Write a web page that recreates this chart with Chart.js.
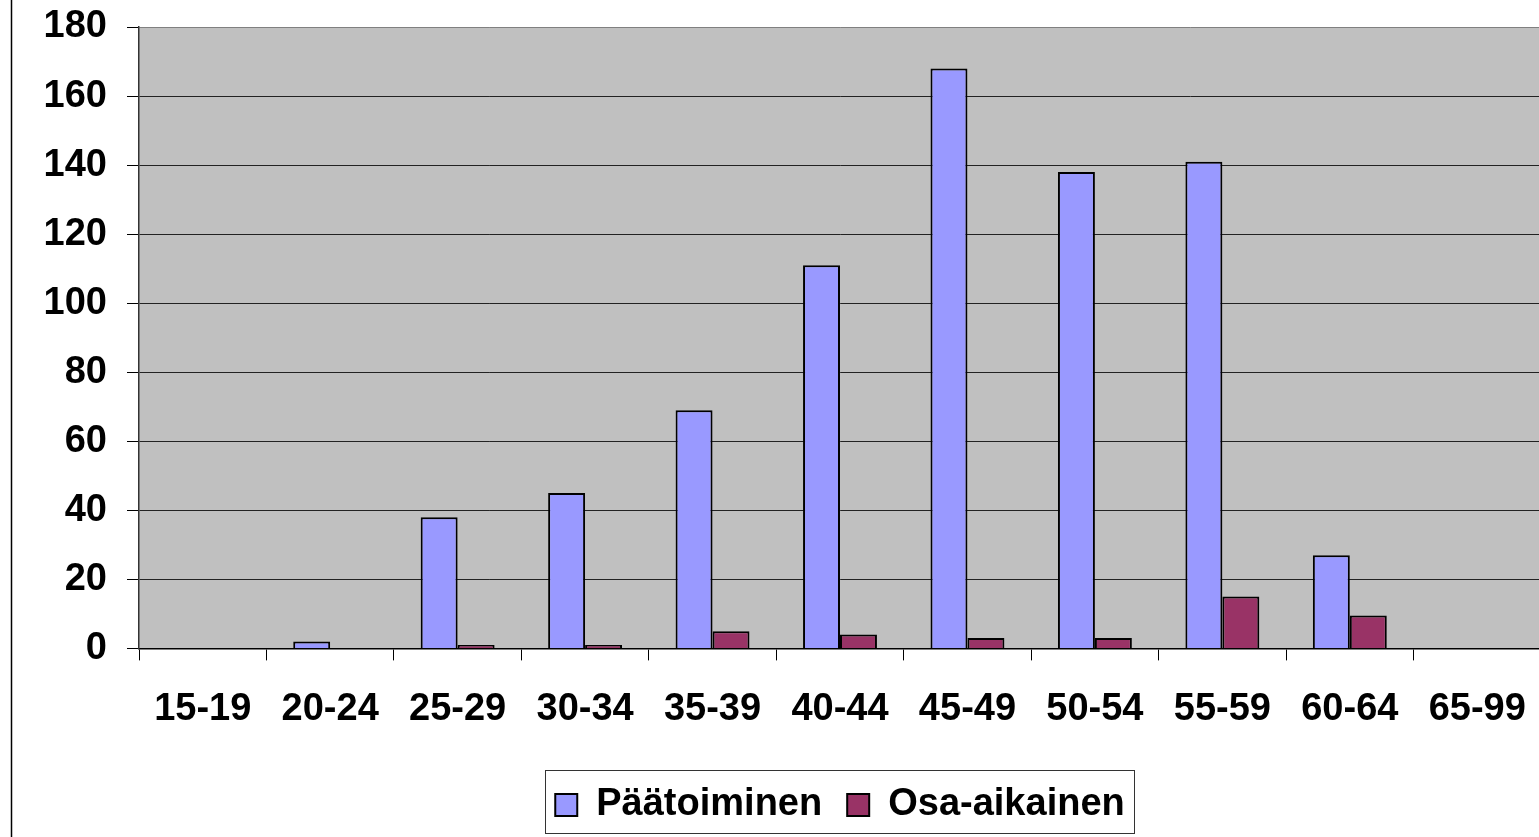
<!DOCTYPE html>
<html>
<head>
<meta charset="utf-8">
<script src="https://cdn.jsdelivr.net/npm/chart.js@4.4.1/dist/chart.umd.min.js"></script>
<style>
  html, body { margin: 0; padding: 0; background: #fff; overflow: hidden; }
  #chart { display: block; }
</style>
</head>
<body>
<canvas id="chart" width="1545" height="837"></canvas>
<script>
const ageGroups = ['15-19', '20-24', '25-29', '30-34', '35-39', '40-44', '45-49', '50-54', '55-59', '60-64', '65-99'];
const paatoiminen = [0, 2, 38, 45, 69, 111, 168, 138, 141, 27, 0];
const osaAikainen = [0, 0, 1, 1, 5, 4, 3, 3, 15, 9.5, 0];
const yTicks = [0, 20, 40, 60, 80, 100, 120, 140, 160, 180];

const FONT = { family: '"Liberation Sans", Arial, sans-serif', size: 38, weight: 'bold' };

// grey plot area, left frame line and legend box
const decorations = {
    id: 'decorations',
    afterLayout(chart) {
        // centre the legend under the plot area, not the whole canvas
        const lg = chart.legend, a = chart.chartArea;
        if (!lg || !lg.legendHitBoxes) return;
        const centre = (a.left + a.right) / 2;
        const boxes = lg.legendHitBoxes;
        const tops = boxes.map(b => b.top);
        lg.left = 2 * centre - lg.right;
        lg.adjustHitBoxes();
        boxes.forEach((b, i) => { b.top = tops[i]; });
    },
    beforeDraw(chart) {
        const { ctx, chartArea: a } = chart;
        ctx.save();
        ctx.fillStyle = '#c0c0c0';
        ctx.fillRect(a.left, a.top, a.right - a.left, a.bottom - a.top);
        ctx.restore();
    },
    afterDraw(chart) {
        const ctx = chart.ctx;
        ctx.save();
        ctx.strokeStyle = '#000';
        ctx.lineWidth = 1.5;
        ctx.beginPath();
        ctx.moveTo(11.5, 0);
        ctx.lineTo(11.5, chart.height);
        ctx.stroke();

        const boxes = chart.legend.legendHitBoxes;
        if (boxes && boxes.length) {
            const left = Math.min(...boxes.map(b => b.left)) - 10;
            const right = Math.max(...boxes.map(b => b.left + b.width)) + 10;
            const mid = boxes[0].top + boxes[0].height / 2;
            ctx.strokeStyle = '#333';
            ctx.lineWidth = 1;
            ctx.strokeRect(Math.round(left) + 0.5, Math.round(mid - 35) + 0.5, Math.round(right - left), 63);
        }
        ctx.restore();
    }
};

new Chart(document.getElementById('chart'), {
    type: 'bar',
    data: {
        labels: ageGroups,
        datasets: [
            { label: 'Päätoiminen', data: paatoiminen, backgroundColor: '#9999ff', borderColor: '#000', borderWidth: 2 },
            { label: 'Osa-aikainen', data: osaAikainen, backgroundColor: '#993366', borderColor: '#000', borderWidth: 2 }
        ]
    },
    options: {
        responsive: false,
        animation: false,
        categoryPercentage: 0.58,
        barPercentage: 1,
        layout: { padding: { left: 0, right: 4, top: 27, bottom: 3 } },
        plugins: {
            tooltip: { enabled: false },
            legend: {
                position: 'bottom',
                labels: {
                    font: FONT,
                    color: '#000',
                    boxWidth: 22,
                    boxHeight: 22,
                    padding: 25
                }
            }
        },
        scales: {
            x: {
                afterFit: scale => {
                    scale.height += 3;
                    scale.paddingLeft = 0;
                    scale.paddingRight = 0;
                },
                grid: { offset: true, drawOnChartArea: false, drawTicks: true, tickLength: 12, color: '#000', lineWidth: 1 },
                border: { color: '#000', width: 1.5 },
                ticks: { font: FONT, color: '#000', padding: 26, maxRotation: 0, autoSkip: false }
            },
            y: {
                min: 0,
                max: 180,
                afterBuildTicks: scale => { scale.ticks = yTicks.map(v => ({ value: v })); },
                afterFit: scale => {
                    scale.width = 139;
                    scale.paddingTop = 0;
                    scale.paddingBottom = 0;
                },
                grid: {
                    color: ctx => (ctx.tick && ctx.tick.value === 180 ? '#808080' : '#222'),
                    tickColor: '#000',
                    lineWidth: 1,
                    tickLength: 12
                },
                border: { color: '#333', width: 1.5 },
                ticks: { font: FONT, color: '#000', padding: 20 }
            }
        }
    },
    plugins: [decorations]
});
</script>
</body>
</html>
